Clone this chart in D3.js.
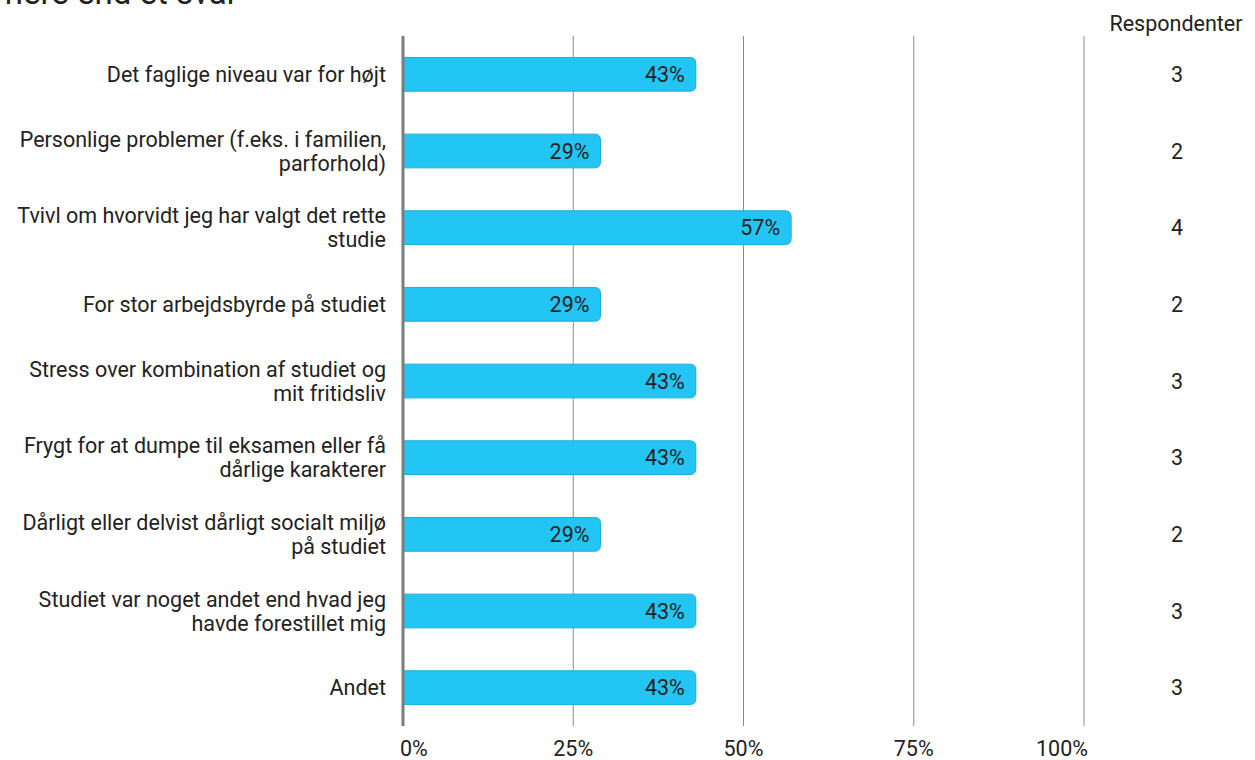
<!DOCTYPE html>
<html>
  <head>
    <meta charset="utf-8">
    <script src="https://d3js.org/d3.v7.min.js"></script>
    <style>
      body { margin: 0; background: #fff; }
      text { font-family: Roboto, "Open Sans", sans-serif; fill: #222; }
    </style>
  </head>
  <body>
    <div id="chart"></div>
    <script>
      // categories, with the line breaks used in the reference
      const categories = [
        ["Det faglige niveau var for højt"],
        ["Personlige problemer (f.eks. i familien,", "parforhold)"],
        ["Tvivl om hvorvidt jeg har valgt det rette", "studie"],
        ["For stor arbejdsbyrde på studiet"],
        ["Stress over kombination af studiet og", "mit fritidsliv"],
        ["Frygt for at dumpe til eksamen eller få", "dårlige karakterer"],
        ["Dårligt eller delvist dårligt socialt miljø", "på studiet"],
        ["Studiet var noget andet end hvad jeg", "havde forestillet mig"],
        ["Andet"],
      ];
      const percents = [43, 29, 57, 29, 43, 43, 29, 43, 43];
      const respondents = [3, 2, 4, 2, 3, 3, 2, 3, 3];
      const tickValues = [0, 25, 50, 75, 100];

      const width = 1255;
      const height = 760;
      const plot = { left: 403, right: 1084, top: 36, bottom: 726 };

      const svg = d3
        .select("#chart")
        .append("svg")
        .attr("width", width)
        .attr("height", height);

      // cut-off title at the very top
      svg.append("text")
        .attr("x", -6)
        .attr("y", 4)
        .style("font-size", "33px")
        .text("mere end et svar");

      const x = d3.scaleLinear().domain([0, 100]).range([plot.left, plot.right]);
      const y = d3
        .scaleBand()
        .domain(d3.range(categories.length))
        .range([plot.top, plot.bottom])
        .paddingInner(0.56)
        .paddingOuter(0.28);

      // grid
      svg.append("g")
        .selectAll("line")
        .data(tickValues.slice(1))
        .join("line")
        .attr("x1", (d) => x(d))
        .attr("x2", (d) => x(d))
        .attr("y1", plot.top)
        .attr("y2", plot.bottom)
        .attr("stroke", "#8a8a8a")
        .attr("stroke-width", 1);

      // tick labels, first and last kept inside the plot width
      svg.append("g")
        .selectAll("text")
        .data(tickValues)
        .join("text")
        .attr("x", (d, i) => x(d) + (i === 0 ? -3 : i === tickValues.length - 1 ? 4 : 0))
        .attr("y", 756)
        .attr("text-anchor", (d, i) => (i === 0 ? "start" : i === tickValues.length - 1 ? "end" : "middle"))
        .style("font-size", "21.5px")
        .text((d) => d + "%");

      // bars: square at the axis, rounded at the end
      const r = 6;
      const bar = svg.append("g")
        .selectAll("g")
        .data(percents)
        .join("g");

      bar.append("path")
        .attr("d", (d, i) => {
          const x0 = x(0), x1 = x(d), y0 = y(i), h = y.bandwidth();
          return `M${x0},${y0}H${x1 - r}Q${x1},${y0} ${x1},${y0 + r}V${y0 + h - r}Q${x1},${y0 + h} ${x1 - r},${y0 + h}H${x0}Z`;
        })
        .attr("fill", "#22c5f4")
        .attr("stroke", "#17afdc")
        .attr("stroke-width", 1);

      bar.append("text")
        .attr("x", (d) => x(d) - 11)
        .attr("y", (d, i) => y(i) + y.bandwidth() / 2)
        .attr("dy", "0.36em")
        .attr("text-anchor", "end")
        .style("font-size", "21.5px")
        .text((d) => d + "%");

      // axis line
      svg.append("line")
        .attr("x1", x(0))
        .attr("x2", x(0))
        .attr("y1", plot.top)
        .attr("y2", plot.bottom)
        .attr("stroke", "#7d7d7d")
        .attr("stroke-width", 3);

      // category labels
      svg.append("g")
        .selectAll("text")
        .data(categories)
        .join("text")
        .attr("text-anchor", "end")
        .style("font-size", "21.5px")
        .each(function (lines, i) {
          const cy = y(i) + y.bandwidth() / 2;
          const lh = 24;
          d3.select(this)
            .selectAll("tspan")
            .data(lines)
            .join("tspan")
            .attr("x", 386)
            .attr("y", (l, j) => cy + (j - (lines.length - 1) / 2) * lh)
            .attr("dy", "0.36em")
            .text((l) => l);
        });

      // respondents column
      svg.append("text")
        .attr("x", 1176)
        .attr("y", 31)
        .attr("text-anchor", "middle")
        .style("font-size", "21.5px")
        .text("Respondenter");

      svg.append("g")
        .selectAll("text")
        .data(respondents)
        .join("text")
        .attr("x", 1177)
        .attr("y", (d, i) => y(i) + y.bandwidth() / 2)
        .attr("dy", "0.36em")
        .attr("text-anchor", "middle")
        .style("font-size", "21.5px")
        .text((d) => d);
    </script>
  </body>
</html>
